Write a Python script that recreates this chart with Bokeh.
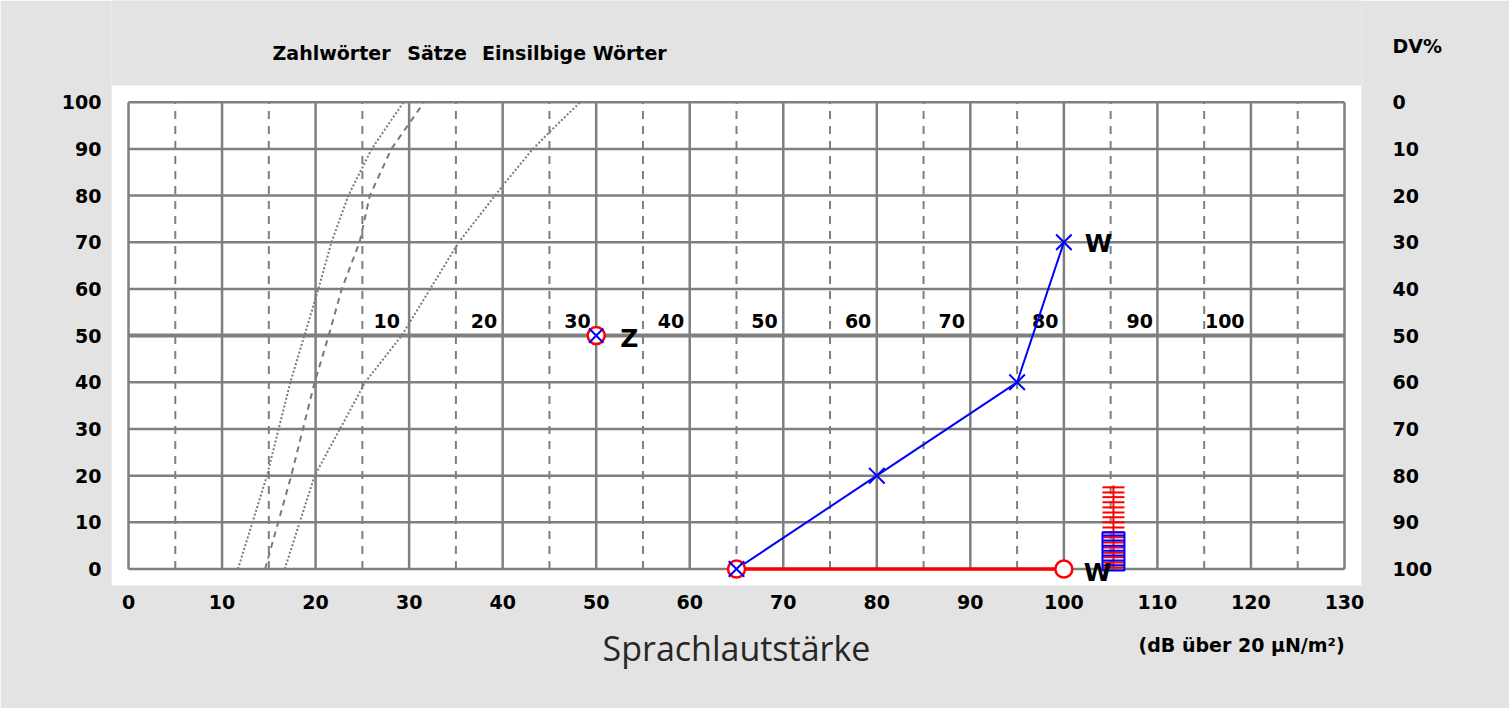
from bokeh.plotting import figure
from bokeh.models import Range1d, LinearAxis, FixedTicker
from bokeh.embed import file_html
from bokeh.resources import INLINE
from bokeh.core.properties import value

# ---------------- data ----------------
x_ticks = [0, 10, 20, 30, 40, 50, 60, 70, 80, 90, 100, 110, 120, 130]
x_dashed = [5, 15, 25, 35, 45, 55, 65, 75, 85, 95, 105, 115, 125]
y_ticks = [0, 10, 20, 30, 40, 50, 60, 70, 80, 90, 100]
y_thin = [0, 10, 20, 30, 40, 60, 70, 80, 90, 100]
y_mid = [50]
dv_labels = ["100", "90", "80", "70", "60", "50", "40", "30", "20", "10", "0"]
dv_title = "DV%"
dv_title_y = 112

header_text = ["Zahlwörter", "Sätze", "Einsilbige Wörter"]
header_db = [15.4, 29.8, 37.8]
header_y = 110.6

unit_text = "(dB über 20 µN/m²)"
unit_db = 119
x_title = "Sprachlautstärke"

# reference curves (normal hearing)
zahl_db = [11.7, 14.8, 17.3, 18.8, 20.3, 21.7, 23.5, 26.0, 29.4]
zahl_pct = [0, 20, 40, 50, 60, 70, 80, 90, 100]
saetze_db = [14.6, 17.4, 19.9, 21.4, 22.8, 24.7, 25.8, 28.1, 31.6]
saetze_pct = [0, 20, 40, 50, 60, 70, 80, 90, 100]
einsilb_db = [16.7, 19.9, 25.3, 29.2, 35.3, 40.2, 43.1, 45.4, 48.3]
einsilb_pct = [0, 20, 40, 50, 70, 82.6, 89.7, 94.4, 100]

# hearing-loss scale labels along the 50 % line
hv_labels = ["10", "20", "30", "40", "50", "60", "70", "80", "90", "100"]
hv_db = [27.6, 38.0, 48.0, 58.0, 68.0, 78.0, 88.0, 98.0, 108.1, 117.2]

# measured results
blue_db = [65, 80, 95, 100]
blue_pct = [0, 20, 40, 70]
red_db = [65, 100]
red_pct = [0, 0]
z_db = [50]
z_pct = [50]
lbl_db = [50, 100, 100]
lbl_pct = [50, 70, 0]
lbl_text = ["Z", "W", "W"]

ladder_db = 105.3
red_ladder_top = 17.9
red_ladder_ticks = [17.5, 16.4, 15.4, 14.3, 13.2, 12.1, 11.1, 10.0, 8.9,
                    7.8, 6.8, 5.7, 4.6, 3.5, 2.5, 1.4, 0.3]
blue_ladder_top = 7.9
blue_ladder_bottom = -0.3
blue_ladder_ticks = [7.2, 6.1, 5.0, 3.9, 2.9, 1.8, 0.8]

# ---------------- layout / style ----------------
GRID = "#7f7f7f"
CURVE = "#7a7a7a"
BG = "#e3e3e3"
FONT = "DejaVu Sans"
FS = "19px"
X0, X1 = -1.82, 131.82      # white panel in data units
Y0, Y1 = -3.53, 103.58

p = figure(width=1509, height=708,
           x_range=Range1d(X0, X1), y_range=Range1d(Y0, 121.79),
           output_backend="svg", toolbar_location=None, title=None,
           min_border_left=111, min_border_right=148,
           min_border_top=0, min_border_bottom=123)
p.background_fill_color = BG
p.border_fill_color = BG
p.outline_line_color = None
p.xgrid.visible = False
p.ygrid.visible = False

def style_axis(ax, standoff):
    ax.axis_line_color = None
    ax.major_tick_line_color = None
    ax.minor_tick_line_color = None
    ax.major_label_standoff = standoff
    ax.major_label_text_font = FONT
    ax.major_label_text_font_style = "bold"
    ax.major_label_text_font_size = FS
    ax.major_label_text_color = "black"

p.xaxis.ticker = FixedTicker(ticks=x_ticks)
style_axis(p.xaxis[0], 3)

unit_axis = LinearAxis(ticker=FixedTicker(ticks=[unit_db]),
                       major_label_overrides={unit_db: unit_text},
                       axis_label=x_title)
style_axis(unit_axis, 16)
unit_axis.axis_label_text_font = "Open Sans"
unit_axis.axis_label_text_font_style = "normal"
unit_axis.axis_label_text_font_size = "34px"
unit_axis.axis_label_text_color = "#262626"
unit_axis.axis_label_standoff = -34
p.add_layout(unit_axis, "below")

p.yaxis.ticker = FixedTicker(ticks=y_ticks)
style_axis(p.yaxis[0], 4)

overrides = {t: l for t, l in zip(y_ticks, dv_labels)}
overrides[dv_title_y] = dv_title
right = LinearAxis(ticker=FixedTicker(ticks=y_ticks + [dv_title_y]),
                   major_label_overrides=overrides)
style_axis(right, 25)
p.add_layout(right, "right")

# white chart panel
p.quad(left=[X0], right=[X1], bottom=[Y0], top=[Y1], fill_color="white", line_color=None)

# grid
p.segment(x0=x_ticks, y0=0, x1=x_ticks, y1=100, line_color=GRID, line_width=2.5)
p.segment(x0=x_dashed, y0=0, x1=x_dashed, y1=100, line_color=GRID, line_width=2,
          line_dash="8 7")
p.segment(x0=0, y0=y_thin, x1=130, y1=y_thin, line_color=GRID, line_width=2.5)
p.segment(x0=0, y0=y_mid, x1=130, y1=y_mid, line_color=GRID, line_width=4)

# reference curves
p.line(zahl_db, zahl_pct, line_color=CURVE, line_width=2, line_dash="2 2")
p.line(saetze_db, saetze_pct, line_color=CURVE, line_width=2, line_dash="6 5")
p.line(einsilb_db, einsilb_pct, line_color=CURVE, line_width=2, line_dash="2 2")

p.text(x=hv_db, y=[50] * len(hv_db), text=hv_labels, text_align="center",
       text_baseline="bottom", y_offset=-8, text_font=value(FONT),
       text_font_style="bold", text_font_size=FS, text_color="black")

# header above the panel
p.text(x=header_db, y=[header_y] * len(header_db), text=header_text,
       text_align="left", text_baseline="middle", text_font=value(FONT),
       text_font_style="bold", text_font_size=FS, text_color="black")

# ladders
p.segment(x0=[ladder_db], y0=[0], x1=[ladder_db], y1=[red_ladder_top],
          line_color="red", line_width=2)
p.scatter(x=[ladder_db] * len(red_ladder_ticks), y=red_ladder_ticks, marker="dash",
          size=22, line_color="red", line_width=2)
p.rect(x=[ladder_db], y=[(blue_ladder_top + blue_ladder_bottom) / 2], width=22,
       width_units="screen", height=blue_ladder_top - blue_ladder_bottom,
       fill_color=None, line_color="blue", line_width=2)
p.scatter(x=[ladder_db] * len(blue_ladder_ticks), y=blue_ladder_ticks, marker="dash",
          size=22, line_color="blue", line_width=2)

# measured results
p.line(red_db, red_pct, line_color="red", line_width=3.5)
p.line(blue_db, blue_pct, line_color="blue", line_width=2)
p.scatter(red_db, red_pct, marker="circle", size=17, fill_color="white",
          line_color="red", line_width=2.5)
p.scatter(z_db, z_pct, marker="circle", size=17, fill_color="white",
          line_color="red", line_width=2.5)
p.scatter(blue_db, blue_pct, marker="x", size=22, line_color="blue", line_width=2)
p.scatter(z_db, z_pct, marker="x", size=20, line_color="blue", line_width=2)

p.text(x=lbl_db, y=lbl_pct, text=lbl_text, x_offset=[24, 21, 20], y_offset=[3, 1, 3],
       text_baseline="middle", text_font=value(FONT), text_font_style="bold",
       text_font_size="25px", text_color="black")

open("out.html", "w").write(file_html(p, INLINE))
